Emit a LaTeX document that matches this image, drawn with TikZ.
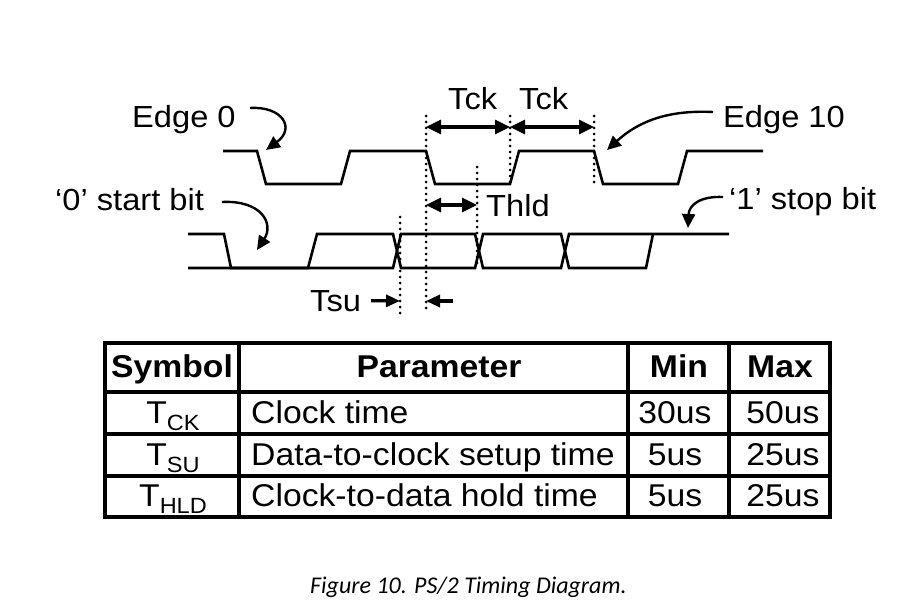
\documentclass[tikz,border=0pt]{standalone}
\usepackage{fontspec}
\setmainfont{Liberation Sans}[FakeStretch=1.07]
\newfontfamily\capfont{Carlito}
\usetikzlibrary{arrows.meta}

\begin{document}
\begin{tikzpicture}[x=1pt,y=-1pt,
    wave/.style={line width=2.6pt},
    guide/.style={line width=3pt,dash pattern=on 0pt off 6pt,line cap=round},
    dimarr/.style={line width=3.2pt,{Triangle[length=15pt,width=14pt]}-{Triangle[length=15pt,width=14pt]}},
    push/.style={line width=3.2pt,-{Triangle[length=14pt,width=12pt]}},
    curl/.style={line width=2.4pt,-{Triangle[length=14pt,width=13pt]}},
    tabline/.style={line width=3.2pt},
    lbl/.style={anchor=base west,inner sep=0pt,font=\fontsize{30.5}{36}\selectfont},
    cell/.style={anchor=base,inner sep=0pt,font=\fontsize{31.5}{36}\selectfont},
    row/.style={anchor=base west,inner sep=0pt,font=\fontsize{31.5}{36}\selectfont},
    head/.style={cell,font=\fontsize{31.5}{36}\selectfont\bfseries}]
  \useasboundingbox (0,0) rectangle (923,607);
  \draw[wave] (223,151) foreach \x in {257,426,594} { -- (\x,151) -- ++(9,33) -- ++(75,0) -- ++(9,-33) } -- (763,151);
  \draw[wave] (188,234) -- (224,234) -- (231,268) -- (393,268) -- (401,234) -- (475,234) -- (483,268) -- (561,268) -- (569,234) -- (729,234);
  \draw[wave] (188,268) -- (308,268) -- (317,234) -- (393,234) -- (401,268) -- (475,268) -- (483,234) -- (561,234) -- (569,268) -- (646,268) -- (653,234);
  \foreach \x/\a/\b in {400/217/313, 426/116/312, 477/167/267, 510/116/183, 594/116/183} {\draw[guide] (\x,\a) -- (\x,\b);}
  \coordinate (ck0) at (426,127); \coordinate (ck1) at (510,127); \coordinate (ck2) at (594,127);
  \coordinate (hd0) at (426,205); \coordinate (hd1) at (477,205);
  \coordinate (su0) at (400,301); \coordinate (su1) at (426,301); \coordinate (su2) at (453,301);
  \draw[dimarr] (ck0) -- (ck1);
  \draw[dimarr] (ck1) -- (ck2);
  \draw[dimarr] (hd0) -- (hd1);
  \node[lbl] (tck0) at (448,110) {Tck};
  \node[lbl] (tck1) at (519,110) {Tck};
  \node[lbl] (thld) at (486,216) {Thld};
  \node[lbl] (tsu) at (310,311) {Tsu};
  \draw[push] ([xshift=10pt]tsu.east) -- (su0);
  \draw[push] (su2) -- (su1);
  \node[lbl] (e0) at (132,128) {Edge 0};
  \node[lbl] (e10) at (723,128) {Edge 10};
  \node[lbl] (b0) at (55,210) {‘0’ start bit};
  \node[lbl] (b1) at (729,209) {‘1’ stop bit};
  \coordinate (e0a) at (250,108); \coordinate (e0b) at (266,150);
  \coordinate (b0a) at (222,202); \coordinate (b0b) at (257,250);
  \coordinate (e10a) at (713,112); \coordinate (e10b) at (607,150);
  \coordinate (b1a) at (723,197); \coordinate (b1b) at (688,228);
  \draw[curl] (e0a) .. controls (282,106) and (296,128) .. (e0b);
  \draw[curl] (b0a) .. controls (262,200) and (274,224) .. (b0b);
  \draw[curl] (e10a) .. controls (670,110) and (640,120) .. (e10b);
  \draw[curl] (b1a) .. controls (700,196) and (689,205) .. (b1b);
  \draw[tabline] (105,343) rectangle (830,517);
  \foreach \y in {392,434,476} {\draw[tabline] (105,\y) -- (830,\y);}
  \foreach \x in {239,628,729} {\draw[tabline] (\x,343) -- (\x,517);}
  \node[head] (hsym) at (172,377) {Symbol};
  \node[head] (hpar) at (439,377) {Parameter};
  \node[head] (hmin) at (679,377) {Min};
  \node[head] (hmax) at (780,377) {Max};
  \node[cell] (sym1) at (173,423) {T\raisebox{-7pt}{\fontsize{22}{24}\selectfont CK}};
  \node[cell] (sym2) at (173,465) {T\raisebox{-7pt}{\fontsize{22}{24}\selectfont SU}};
  \node[cell] (sym3) at (173,506) {T\raisebox{-7pt}{\fontsize{22}{24}\selectfont HLD}};
  \node[row] (par1) at (251,423) {Clock time};
  \node[row] (par2) at (251,465) {Data-to-clock setup time};
  \node[row] (par3) at (251,506) {Clock-to-data hold time};
  \node[cell] (min1) at (675,423) {30us};
  \node[cell] (min2) at (675,465) {5us};
  \node[cell] (min3) at (675,506) {5us};
  \node[cell] (max1) at (783,423) {50us};
  \node[cell] (max2) at (783,465) {25us};
  \node[cell] (max3) at (783,506) {25us};
  \node[anchor=base west,inner sep=0pt,font=\capfont\itshape\fontsize{24}{28}\selectfont] (cap) at (310,593) {Figure 10. PS/2 Timing Diagram.};
\end{tikzpicture}
\end{document}
